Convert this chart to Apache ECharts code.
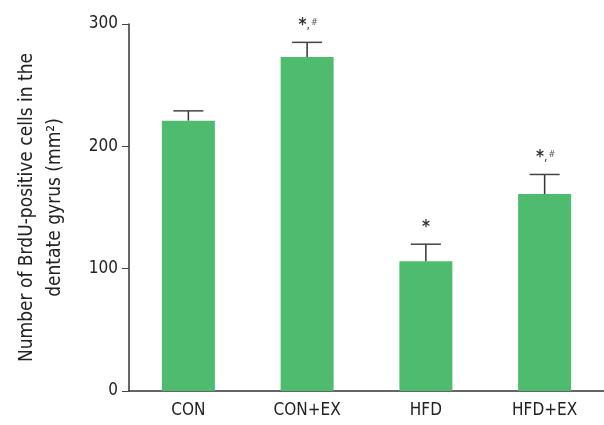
<!DOCTYPE html>
<html>
<head>
<meta charset="utf-8">
<script src="https://cdn.jsdelivr.net/npm/echarts@6/dist/echarts.min.js"></script>
<style>
  html, body { margin: 0; padding: 0; background: #fff; }
  #chart { width: 604px; height: 425px; }
</style>
</head>
<body>
<div id="chart"></div>
<script>
const groups = ['CON', 'CON+EX', 'HFD', 'HFD+EX'];
const means = [221, 273, 106, 161];
const errors = [8, 12, 14, 16];
const marks = ['', '*,#', '*', '*,#'];
const yTicks = [0, 100, 200, 300];

const FONT = "'Liberation Sans Narrow', 'DejaVu Sans Condensed', 'Roboto', sans-serif";
const chart = echarts.init(document.getElementById('chart'));

// error bar + significance marks drawn on top of the bars
function renderErr(params, api) {
  const i = api.value(0);
  const base = api.coord([i, api.value(1)]);
  const top = api.coord([i, api.value(1) + api.value(2)]);
  const cap = 15;
  const children = [
    { type: 'line', shape: { x1: base[0], y1: base[1], x2: top[0], y2: top[1] },
      style: { stroke: '#333', lineWidth: 1.5 } },
    { type: 'line', shape: { x1: top[0] - cap, y1: top[1], x2: top[0] + cap, y2: top[1] },
      style: { stroke: '#444', lineWidth: 1.5 } }
  ];
  const m = marks[i];
  if (m) {
    const txt = m.indexOf('#') >= 0 ? '{a|*}{b|,}{c|#}' : '{a|*}';
    children.push({
      type: 'text', x: top[0] + (m.length > 1 ? 1 : 0), y: top[1] - 8,
      style: {
        text: txt, align: 'center', verticalAlign: 'bottom',
        rich: {
          a: { fontSize: 17, fontFamily: FONT, fill: '#333', fontWeight: 'bold' },
          b: { fontSize: 12, fontFamily: FONT, fill: '#333' },
          c: { fontSize: 9, fontFamily: FONT, fill: '#555', padding: [0, 0, 7, 1] }
        }
      }
    });
  }
  return { type: 'group', children };
}

chart.setOption({
  animation: false,
  grid: { left: 129, right: -3, top: 24, bottom: 34 },
  xAxis: {
    type: 'category', data: groups,
    axisLine: { lineStyle: { color: '#333', width: 1.5 } },
    axisTick: { inside: true, length: 7, interval: 0, lineStyle: { color: '#444' } },
    axisLabel: { color: '#222', fontSize: 17, fontFamily: FONT, margin: 11 }
  },
  yAxis: {
    type: 'value', min: 0, max: 300, interval: 100,
    name: 'Number of BrdU-positive cells in the\ndentate gyrus (mm²)',
    nameLocation: 'middle', nameGap: 60, nameRotate: 90,
    nameTextStyle: { color: '#222', fontSize: 19, fontFamily: FONT, lineHeight: 28 },
    axisLine: { show: true, lineStyle: { color: '#333', width: 1.5 } },
    axisTick: { show: true, length: 7, lineStyle: { color: '#444' } },
    splitLine: { show: false },
    axisLabel: { color: '#222', fontSize: 17, fontFamily: FONT, margin: 11,
      customValues: yTicks }
  },
  series: [
    {
      type: 'bar', data: means, barWidth: 53,
      itemStyle: { color: '#4fbb6f' }
    },
    {
      type: 'custom', renderItem: renderErr, z: 5,
      data: means.map((v, i) => [i, v, errors[i]])
    }
  ]
});
</script>
</body>
</html>
